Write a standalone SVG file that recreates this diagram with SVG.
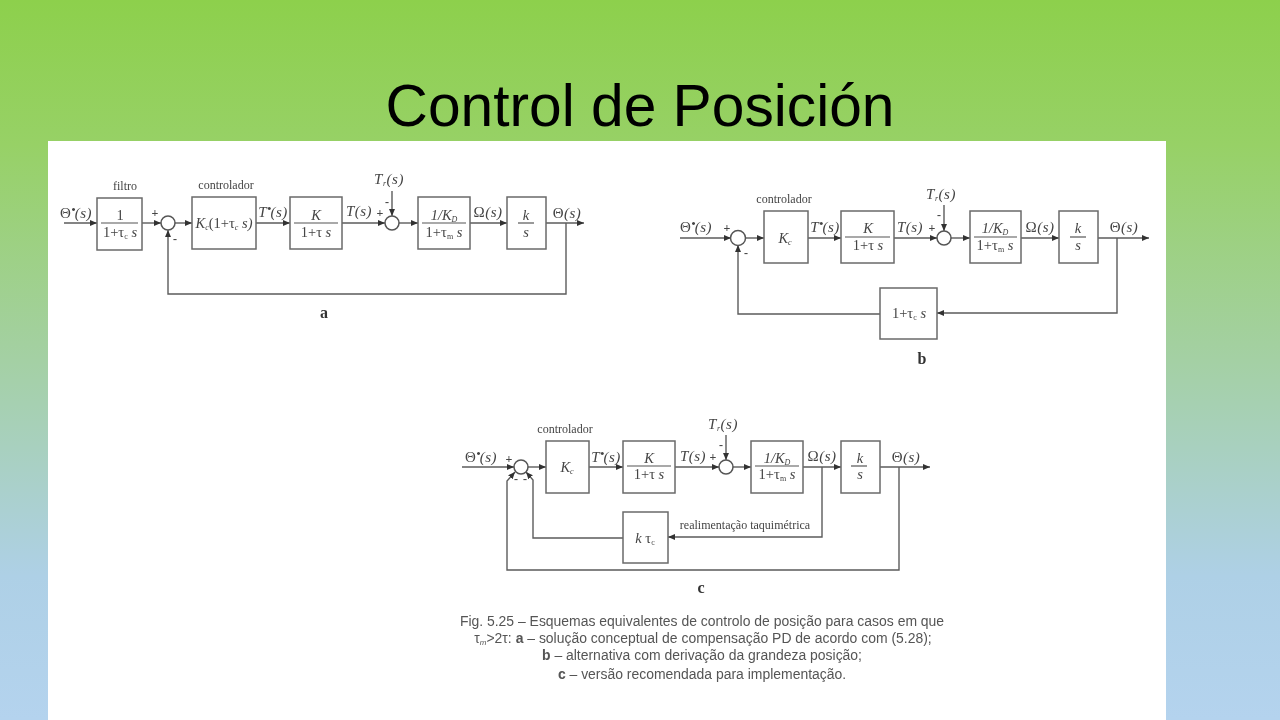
<svg xmlns="http://www.w3.org/2000/svg" width="1280" height="720" viewBox="0 0 1280 720">
<style>
.b{fill:#fff;stroke:#6a6a6a;stroke-width:1.5}
.s{fill:#fff;stroke:#555;stroke-width:1.5}
.a{fill:none;stroke:#5c5c5c;stroke-width:1.4;marker-end:url(#ah)}
.f{fill:none;stroke:#555;stroke-width:1.2}
text{font-family:"Liberation Serif","Noto Sans CJK SC",serif;fill:#444;text-anchor:middle}
.m{font-size:14.5px;font-style:italic}
.n{font-size:15px;font-style:italic;letter-spacing:.5px}
.g{font-style:normal}
.d{font-size:13px;font-style:normal;letter-spacing:-1px}
.c{font-size:12px}
.p{font-size:12px;font-weight:bold}
.sub{font-size:8px}
.big{font-size:16px;font-weight:bold;fill:#333}
.cap{font-family:"Liberation Sans",Arial,sans-serif;font-size:13.95px;fill:#555}
.title{font-family:"Liberation Sans",Arial,sans-serif;font-size:58.7px;fill:#000}
</style>
<defs>
<linearGradient id="bg" x1="0" y1="0" x2="0" y2="1">
<stop offset="0" stop-color="#8dd04c"/>
<stop offset=".2" stop-color="#97d166"/>
<stop offset=".5" stop-color="#a4d0a4"/>
<stop offset=".8" stop-color="#aed0e6"/>
<stop offset="1" stop-color="#b4d3ee"/>
</linearGradient>
<marker id="ah" markerUnits="userSpaceOnUse" markerWidth="8" markerHeight="7" refX="7" refY="3" orient="auto"><path d="M0 0L7 3L0 6z" fill="#333"/></marker>
<filter id="soft" x="0" y="0" width="1" height="1"><feGaussianBlur stdDeviation="0.45"/></filter>
</defs>
<rect width="1280" height="720" fill="url(#bg)"/>
<text class="title" x="640" y="126">Control de Posición</text>
<rect x="48" y="141" width="1118" height="579" fill="#fff"/>
<g filter="url(#soft)">
<g id="connectors">
<path class="a" d="M64 223H97"/><path class="a" d="M142 223H161"/><path class="a" d="M175 223H192"/>
<path class="a" d="M256 223H290"/><path class="a" d="M342 223H385"/><path class="a" d="M399 223H418"/>
<path class="a" d="M392 191V216"/><path class="a" d="M470 223H507"/><path class="a" d="M546 223H584"/>
<path class="a" d="M566 223V294H168V230"/>
<path class="a" d="M680 238H731"/><path class="a" d="M745 238H764"/><path class="a" d="M808 238H841"/>
<path class="a" d="M894 238H937"/><path class="a" d="M944 205V231"/><path class="a" d="M951 238H970"/>
<path class="a" d="M1021 238H1059"/><path class="a" d="M1098 238H1149"/>
<path class="a" d="M1117 238V313H937"/><path class="a" d="M880 314H738V245"/>
<path class="a" d="M462 467H514"/><path class="a" d="M528 467H546"/><path class="a" d="M589 467H623"/>
<path class="a" d="M675 467H719"/><path class="a" d="M726 435V460"/><path class="a" d="M733 467H751"/>
<path class="a" d="M803 467H841"/><path class="a" d="M880 467H930"/>
<path class="a" d="M822 467V537H668"/><path class="a" d="M623 538H533V480L526 472"/>
<path class="a" d="M899 467V570H507V481L515 472"/>
</g>
<g id="a-filtro"><rect class="b" x="97" y="198" width="45" height="52"/><path class="f" d="M101 223H138"/><text class="m g" x="120" y="220">1</text><text class="m g" x="120" y="237">1+τ<tspan class="sub" dy="2">c</tspan><tspan dy="-2" font-style="italic"> s</tspan></text></g>
<g id="a-sum1"><circle class="s" cx="168" cy="223" r="7"/></g>
<g id="a-ctrl"><rect class="b" x="192" y="197" width="64" height="52"/><text class="m" x="224" y="228">K<tspan class="sub" dy="2">c</tspan><tspan class="g" dy="-2">(1+τ</tspan><tspan class="sub" dy="2">c</tspan><tspan dy="-2"> s)</tspan></text></g>
<g id="a-K"><rect class="b" x="290" y="197" width="52" height="52"/><path class="f" d="M294 223H338"/><text class="m" x="316" y="220">K</text><text class="m g" x="316" y="237">1+τ <tspan font-style="italic">s</tspan></text></g>
<g id="a-sum2"><circle class="s" cx="392" cy="223" r="7"/></g>
<g id="a-KD"><rect class="b" x="418" y="197" width="52" height="52"/><path class="f" d="M422 223H466"/><text class="m" x="444" y="220">1/K<tspan class="sub" dy="2">D</tspan></text><text class="m g" x="444" y="237">1+τ<tspan class="sub" dy="2">m</tspan><tspan dy="-2" font-style="italic"> s</tspan></text></g>
<g id="a-int"><rect class="b" x="507" y="197" width="39" height="52"/><path class="f" d="M518 223H534"/><text class="m" x="526" y="220">k</text><text class="m" x="526" y="237">s</text></g>
<g id="a-labels">
<text class="c" x="125" y="190">filtro</text><text class="c" x="226" y="189">controlador</text>
<text class="n" x="76" y="218"><tspan class="g">Θ</tspan><tspan class="d" dy="-4">•</tspan><tspan dy="4">(s)</tspan></text>
<text class="n" x="273" y="217">T<tspan class="d" dy="-4">•</tspan><tspan dy="4">(s)</tspan></text>
<text class="n" x="359" y="216">T(s)</text>
<text class="n" x="389" y="184">T<tspan class="sub" dy="2">r</tspan><tspan dy="-2">(s)</tspan></text>
<text class="n" x="488" y="217"><tspan class="g">Ω</tspan>(s)</text>
<text class="n" x="567" y="218"><tspan class="g">Θ</tspan>(s)</text>
<text class="p" x="155" y="217">+</text><text class="p" x="175" y="243">-</text><text class="p" x="380" y="217">+</text><text class="p" x="387" y="206">-</text>
<text class="big" x="324" y="318">a</text>
</g>
<g id="b-sum1"><circle class="s" cx="738" cy="238" r="7.5"/></g>
<g id="b-ctrl"><rect class="b" x="764" y="211" width="44" height="52"/><text class="m" x="785" y="243">K<tspan class="sub" dy="2">c</tspan></text></g>
<g id="b-K"><rect class="b" x="841" y="211" width="53" height="52"/><path class="f" d="M845 237H890"/><text class="m" x="868" y="233">K</text><text class="m g" x="868" y="250">1+τ <tspan font-style="italic">s</tspan></text></g>
<g id="b-sum2"><circle class="s" cx="944" cy="238" r="7"/></g>
<g id="b-KD"><rect class="b" x="970" y="211" width="51" height="52"/><path class="f" d="M974 237H1017"/><text class="m" x="995" y="233">1/K<tspan class="sub" dy="2">D</tspan></text><text class="m g" x="995" y="250">1+τ<tspan class="sub" dy="2">m</tspan><tspan dy="-2" font-style="italic"> s</tspan></text></g>
<g id="b-int"><rect class="b" x="1059" y="211" width="39" height="52"/><path class="f" d="M1070 237H1086"/><text class="m" x="1078" y="233">k</text><text class="m" x="1078" y="250">s</text></g>
<g id="b-fb"><rect class="b" x="880" y="288" width="57" height="51"/><text class="m g" x="909" y="318">1+τ<tspan class="sub" dy="2">c</tspan><tspan dy="-2" font-style="italic"> s</tspan></text></g>
<g id="b-labels">
<text class="c" x="784" y="203">controlador</text>
<text class="n" x="696" y="232"><tspan class="g">Θ</tspan><tspan class="d" dy="-4">•</tspan><tspan dy="4">(s)</tspan></text>
<text class="n" x="825" y="232">T<tspan class="d" dy="-4">•</tspan><tspan dy="4">(s)</tspan></text>
<text class="n" x="910" y="232">T(s)</text>
<text class="n" x="941" y="199">T<tspan class="sub" dy="2">r</tspan><tspan dy="-2">(s)</tspan></text>
<text class="n" x="1040" y="232"><tspan class="g">Ω</tspan>(s)</text>
<text class="n" x="1124" y="232"><tspan class="g">Θ</tspan>(s)</text>
<text class="p" x="727" y="232">+</text><text class="p" x="746" y="257">-</text><text class="p" x="932" y="232">+</text><text class="p" x="939" y="219">-</text>
<text class="big" x="922" y="364">b</text>
</g>
<g id="c-sum1"><circle class="s" cx="521" cy="467" r="7"/></g>
<g id="c-ctrl"><rect class="b" x="546" y="441" width="43" height="52"/><text class="m" x="567" y="472">K<tspan class="sub" dy="2">c</tspan></text></g>
<g id="c-K"><rect class="b" x="623" y="441" width="52" height="52"/><path class="f" d="M627 466H671"/><text class="m" x="649" y="463">K</text><text class="m g" x="649" y="479">1+τ <tspan font-style="italic">s</tspan></text></g>
<g id="c-sum2"><circle class="s" cx="726" cy="467" r="7"/></g>
<g id="c-KD"><rect class="b" x="751" y="441" width="52" height="52"/><path class="f" d="M755 466H799"/><text class="m" x="777" y="463">1/K<tspan class="sub" dy="2">D</tspan></text><text class="m g" x="777" y="479">1+τ<tspan class="sub" dy="2">m</tspan><tspan dy="-2" font-style="italic"> s</tspan></text></g>
<g id="c-int"><rect class="b" x="841" y="441" width="39" height="52"/><path class="f" d="M851 466H867"/><text class="m" x="860" y="463">k</text><text class="m" x="860" y="479">s</text></g>
<g id="c-tach"><rect class="b" x="623" y="512" width="45" height="51"/><text class="m" x="645" y="543">k <tspan class="g">τ</tspan><tspan class="sub g" dy="2">c</tspan></text></g>
<g id="c-labels">
<text class="c" x="565" y="433">controlador</text>
<text class="n" x="481" y="462"><tspan class="g">Θ</tspan><tspan class="d" dy="-4">•</tspan><tspan dy="4">(s)</tspan></text>
<text class="n" x="606" y="462">T<tspan class="d" dy="-4">•</tspan><tspan dy="4">(s)</tspan></text>
<text class="n" x="693" y="461">T(s)</text>
<text class="n" x="723" y="429">T<tspan class="sub" dy="2">r</tspan><tspan dy="-2">(s)</tspan></text>
<text class="n" x="822" y="461"><tspan class="g">Ω</tspan>(s)</text>
<text class="n" x="906" y="462"><tspan class="g">Θ</tspan>(s)</text>
<text class="c" x="745" y="529">realimentação taquimétrica</text>
<text class="p" x="509" y="463">+</text><text class="p" x="516" y="483">-</text><text class="p" x="525" y="483">-</text><text class="p" x="713" y="461">+</text><text class="p" x="721" y="449">-</text>
<text class="big" x="701" y="593">c</text>
</g>
<g id="caption">
<text class="cap" x="702" y="626">Fig. 5.25 – Esquemas equivalentes de controlo de posição para casos em que</text>
<text class="cap" x="703" y="643">τ<tspan font-size="8" font-style="italic" dy="2">m</tspan><tspan dy="-2">&gt;2τ: </tspan><tspan font-weight="bold">a</tspan> – solução conceptual de compensação PD de acordo com (5.28);</text>
<text class="cap" x="702" y="660"><tspan font-weight="bold">b</tspan> – alternativa com derivação da grandeza posição;</text>
<text class="cap" x="702" y="679"><tspan font-weight="bold">c</tspan> – versão recomendada para implementação.</text>
</g>
</g>
</svg>
